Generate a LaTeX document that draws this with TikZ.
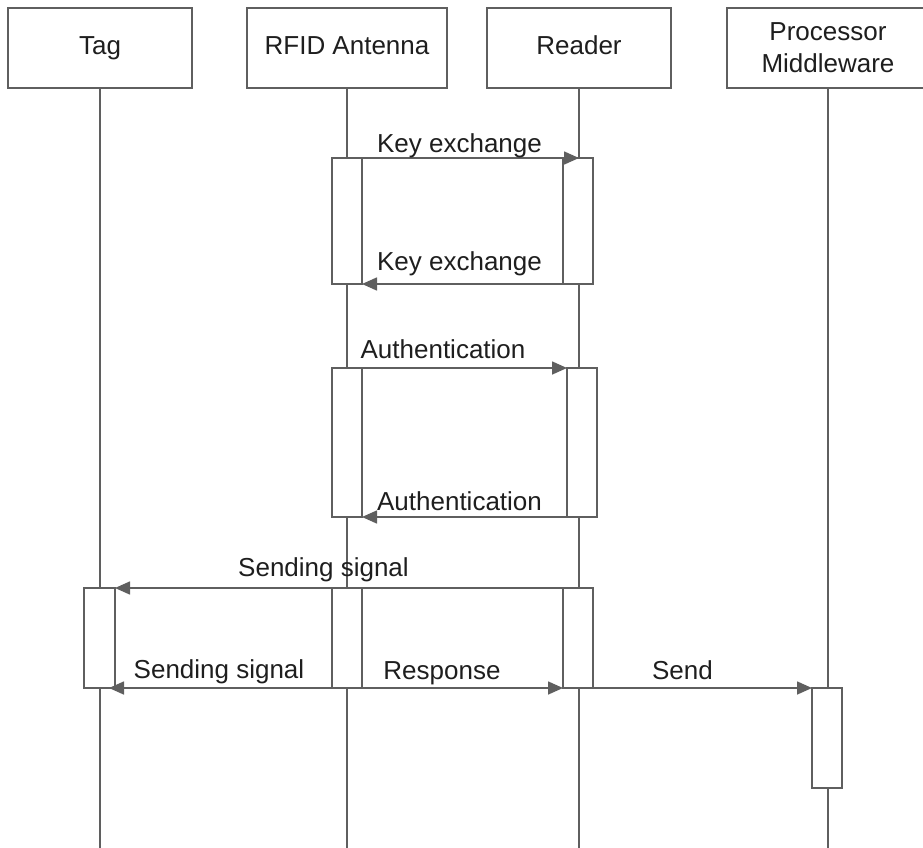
\documentclass[tikz,border=0pt]{standalone}
\usepackage{fontspec}
\setmainfont{Liberation Sans}
\usetikzlibrary{arrows.meta}
\definecolor{linegray}{RGB}{95,95,95}
\definecolor{inkdark}{RGB}{30,30,30}

\begin{document}
\begin{tikzpicture}[x=1pt,y=-1pt,
  every node/.style={font=\fontsize{26}{32}\selectfont, text=inkdark},
  head/.style={draw=linegray, line width=1.6pt, fill=white, minimum height=80pt,
    inner sep=0pt, outer sep=0pt},
  oneline/.style={text height=18.6pt, text depth=5.5pt},
  life/.style={draw=linegray, line width=1.4pt},
  act/.style={draw=linegray, line width=1.6pt, fill=white, minimum width=30pt,
    inner sep=0pt, outer sep=0pt, anchor=north},
  msg/.style={draw=linegray, line width=1.6pt, -{Triangle[length=15pt,width=13pt]}},
  lbl/.style={anchor=base, inner sep=0pt},
]
\useasboundingbox (0,0) rectangle (923,848);
\clip (0,0) rectangle (923,848);

% participants
\node[head, oneline, minimum width=184pt] (tag) at (100,48) {Tag};
\node[head, oneline, minimum width=200pt] (ant) at (347,48) {RFID Antenna};
\node[head, oneline, minimum width=184pt] (rdr) at (579,48) {Reader};
\node[head, align=center, minimum width=202pt] (proc) at (828,48) {Processor\\Middleware};

% lifelines
\coordinate (bottom) at (0,848);
\draw[life] (tag.south) -- (tag.south |- bottom);
\draw[life] (ant.south) -- (ant.south |- bottom);
\draw[life] (rdr.south) -- (rdr.south |- bottom);
\draw[life] (proc.south) -- (proc.south |- bottom);

% activation bars
\node[act, minimum height=126pt] (a1) at (347,158) {};
\node[act, minimum height=126pt] (r1) at (578,158) {};
\node[act, minimum height=149pt] (a2) at (347,368) {};
\node[act, minimum height=149pt] (r2) at (582,368) {};
\node[act, minimum height=100pt, minimum width=31pt] (t3) at (99.5,588) {};
\node[act, minimum height=100pt] (a3) at (347,588) {};
\node[act, minimum height=100pt] (r3) at (578,588) {};
\node[act, minimum height=100pt] (p3) at (827,688) {};

% messages
\draw[msg] (a1.north) -- (rdr.south |- r1.north);
\draw[msg] (r1.south west) -- (a1.south east);
\draw[msg] (a2.north) -- (r2.north west);
\draw[msg] (r2.south west) -- (a2.south east);
\draw[msg] (r3.north) -- (t3.north east);
\draw[msg, shorten >=-6pt] (a3.south west) -- (t3.south east);
\draw[msg] (a3.south east) -- (r3.south west);
\draw[msg] (r3.south east) -- (p3.north west);

% message labels
\node[lbl] (k1) at (459.5,152) {Key exchange};
\node[lbl] (k2) at (459.5,270) {Key exchange};
\node[lbl] (au1) at (443,358) {Authentication};
\node[lbl] (au2) at (459.5,510) {Authentication};
\node[lbl] (s1) at (323.5,576) {Sending signal};
\node[lbl] (s2) at (219,678) {Sending signal};
\node[lbl] (rs) at (442,679) {Response};
\node[lbl] (sd) at (682.5,679) {Send};
\end{tikzpicture}
\end{document}
